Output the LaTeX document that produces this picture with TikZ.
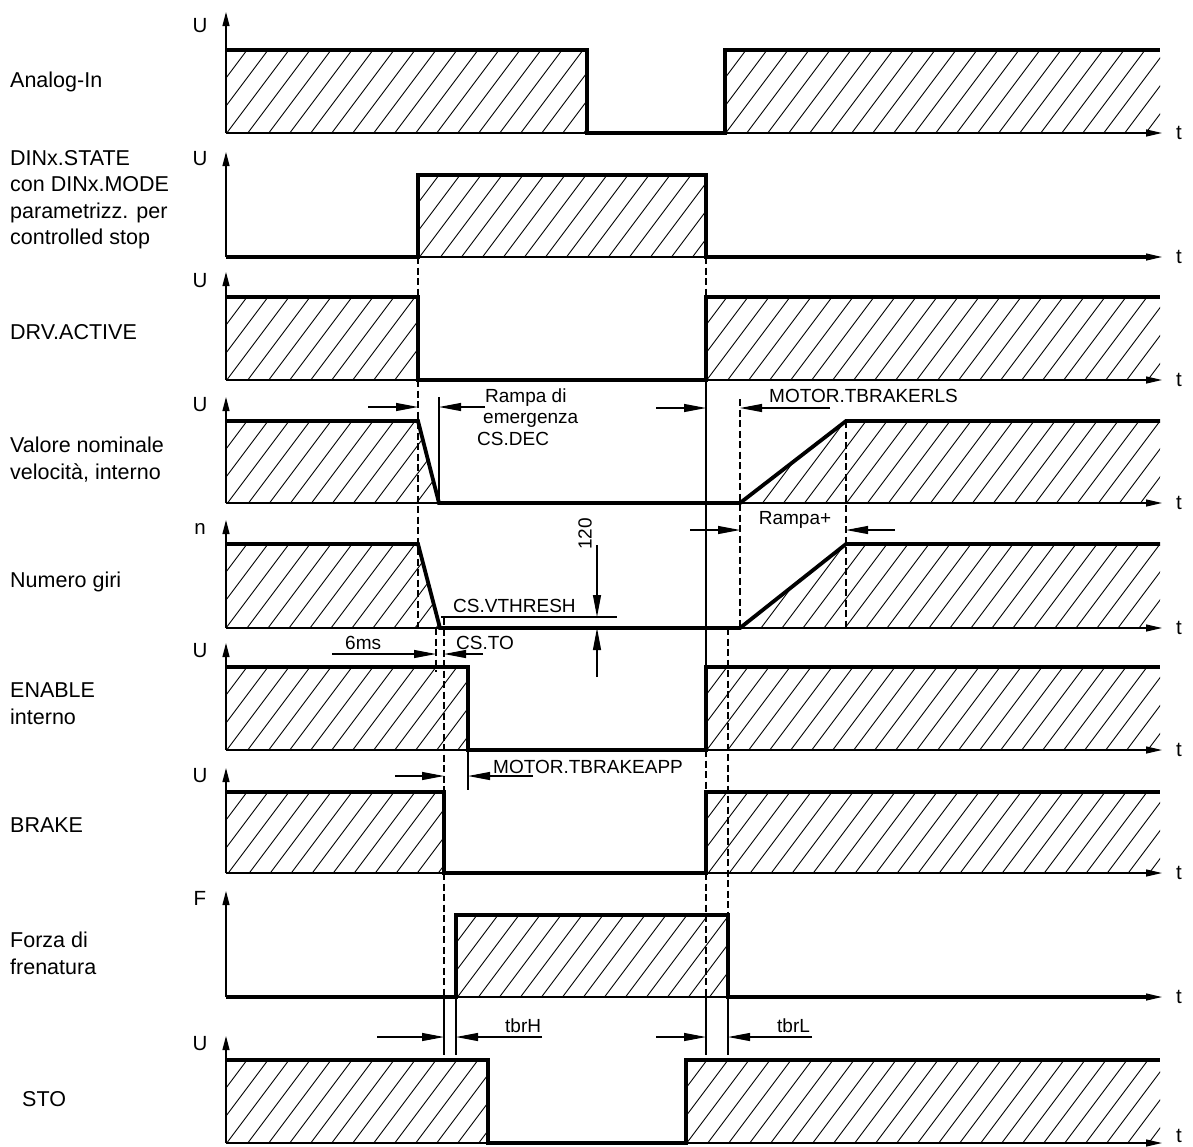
\documentclass[tikz,border=0pt]{standalone}
\usepackage{fontspec}
\setmainfont{Liberation Sans}
\usetikzlibrary{arrows.meta}
\newcommand\hatchreg[5]{%
 \begin{scope}
 \clip #1;
 \pgfmathsetmacro\hh{#5-#4}
 \pgfmathtruncatemacro\nn{((#3)-(#2)+0.75*\hh)/21+1}
 \foreach \i in {0,...,\nn}{
   \draw[hatchln] ({#2-0.75*\hh+\i*21},#5) -- ++({0.75*\hh},{-\hh});
 }
 \end{scope}}
\begin{document}
\begin{tikzpicture}[x=1pt,y=-1pt,
  sig/.style={line width=3.8pt, line join=miter},
  thinln/.style={line width=1.2pt},
  hatchln/.style={line width=0.9pt},
  guide/.style={line width=1.1pt, dash pattern=on 7pt off 3.5pt},
  axisU/.style={line width=1.2pt, -{Triangle[length=14pt,width=7pt]}},
  axisT/.style={line width=1.2pt, -{Triangle[length=16pt,width=7pt]}},
  dim/.style={line width=1.1pt, -{Triangle[length=22pt,width=8pt]}},
  lbl/.style={font=\fontsize{21.5}{26}\selectfont, anchor=base west, inner sep=0pt},
  ann/.style={font=\fontsize{19}{23}\selectfont, anchor=base west, inner sep=0pt},
  axl/.style={font=\fontsize{20.5}{24}\selectfont, anchor=base, inner sep=0pt},
]
\useasboundingbox[fill=white] (0,0) rectangle (1193,1146);

% ---------- hatching ----------
\hatchreg{(226,50) rectangle (587,133)}{226}{587}{50}{133}
\hatchreg{(725,50) rectangle (1160,133)}{725}{1160}{50}{133}
\hatchreg{(418,175) rectangle (706,257)}{418}{706}{175}{257}
\hatchreg{(226,297) rectangle (418,380)}{226}{418}{297}{380}
\hatchreg{(706,297) rectangle (1160,380)}{706}{1160}{297}{380}
\hatchreg{(226,421) -- (418,421) -- (439,503) -- (226,503) -- cycle}{226}{439}{421}{503}
\hatchreg{(740,503) -- (846,421) -- (1160,421) -- (1160,503) -- cycle}{740}{1160}{421}{503}
\hatchreg{(226,544) -- (418,544) -- (440,628) -- (226,628) -- cycle}{226}{440}{544}{628}
\hatchreg{(740,628) -- (846,544) -- (1160,544) -- (1160,628) -- cycle}{740}{1160}{544}{628}
\hatchreg{(226,667) rectangle (468,750)}{226}{468}{667}{750}
\hatchreg{(706,667) rectangle (1160,750)}{706}{1160}{667}{750}
\hatchreg{(226,792) rectangle (444,873)}{226}{444}{792}{873}
\hatchreg{(706,792) rectangle (1160,873)}{706}{1160}{792}{873}
\hatchreg{(456,915) rectangle (728,997)}{456}{728}{915}{997}
\hatchreg{(226,1060) rectangle (488,1143)}{226}{488}{1060}{1143}
\hatchreg{(686,1060) rectangle (1160,1143)}{686}{1160}{1060}{1143}

% ---------- axes ----------
\foreach \hb/\tp/\tb in {133/12/139, 257/152/263, 380/272/386, 503/397/509, 628/520/634, 750/643/756, 873/768/879, 997/891/1003, 1143/1036/1142}{
  \draw[axisU] (226,\hb) -- (226,\tp);
  \draw[axisT] (226,\hb) -- (1162,\hb);
  \node[axl] (t\hb) at (1179,\tb) {t};
}
\node[axl] (u1) at (200,32) {U};
\node[axl] (u2) at (200,165) {U};
\node[axl] (u3) at (200,287) {U};
\node[axl] (u4) at (200,411) {U};
\node[axl] (u5) at (200,534) {n};
\node[axl] (u6) at (200,657) {U};
\node[axl] (u7) at (200,782) {U};
\node[axl] (u8) at (200,905) {F};
\node[axl] (u9) at (200,1050) {U};

% ---------- guide lines ----------
\draw[guide] (418,257) -- (418,297);
\draw[guide] (418,380) -- (418,628);
\draw[thinln] (439,397) -- (439,503);
\draw[guide] (436,628) -- (436,672);
\draw[guide] (444,618) -- (444,792);
\draw[guide] (444,873) -- (444,997);
\draw[thinln] (444,997) -- (444,1055);
\draw[thinln] (456,997) -- (456,1055);
\draw[thinln] (468,750) -- (468,790);
\draw[guide] (706,257) -- (706,297);
\draw[thinln] (706,380) -- (706,667);
\draw[guide] (706,750) -- (706,792);
\draw[guide] (706,873) -- (706,997);
\draw[thinln] (706,997) -- (706,1055);
\draw[guide] (740,399) -- (740,628);
\draw[guide] (846,421) -- (846,628);
\draw[guide] (728,628) -- (728,915);
\draw[thinln] (728,997) -- (728,1055);
\draw[thinln] (441,617) -- (617,617);

% ---------- signals ----------
\draw[sig] (226,50) -- (587,50) -- (587,133) -- (725,133) -- (725,50) -- (1160,50);
\draw[sig] (226,257) -- (418,257) -- (418,175) -- (706,175) -- (706,257) -- (1150,257);
\draw[sig] (226,297) -- (418,297) -- (418,380) -- (706,380) -- (706,297) -- (1160,297);
\draw[sig] (226,421) -- (418,421) -- (439,503) -- (740,503) -- (846,421) -- (1160,421);
\draw[sig] (226,544) -- (418,544) -- (440,628) -- (740,628) -- (846,544) -- (1160,544);
\draw[sig] (226,667) -- (468,667) -- (468,750) -- (706,750) -- (706,667) -- (1160,667);
\draw[sig] (226,792) -- (444,792) -- (444,873) -- (706,873) -- (706,792) -- (1160,792);
\draw[sig] (226,997) -- (456,997) -- (456,915) -- (728,915) -- (728,997) -- (1150,997);
\draw[sig] (226,1060) -- (488,1060) -- (488,1143) -- (686,1143) -- (686,1060) -- (1160,1060);

% ---------- dimension arrows ----------
\draw[dim] (368,407) -- (418,407);
\draw[dim] (485,407) -- (439,407);
\draw[dim] (656,408) -- (706,408);
\draw[dim] (830,408) -- (740,408);
\draw[dim] (690,530) -- (740,530);
\draw[dim] (895,530) -- (846,530);
\draw[dim] (597,545) -- (597,617);
\draw[dim] (597,677) -- (597,628);
\draw[dim] (332,654) -- (436,654);
\draw[dim] (483,654) -- (444,654);
\draw[dim] (395,776) -- (444,776);
\draw[dim] (533,776) -- (468,776);
\draw[dim] (377,1037) -- (444,1037);
\draw[dim] (542,1037) -- (456,1037);
\draw[dim] (656,1037) -- (706,1037);
\draw[dim] (812,1037) -- (728,1037);

% ---------- annotation texts ----------
\node[ann] (rd1) at (485,402) {Rampa di};
\node[ann] (rd2) at (483,423.5) {emergenza};
\node[ann] (rd3) at (477,445) {CS.DEC};
\node[ann] (rls) at (769,402) {MOTOR.TBRAKERLS};
\node[ann, anchor=base] (rp) at (795,524) {Rampa+};
\node[font=\fontsize{19}{23}\selectfont, rotate=90, inner sep=0pt] (n120) at (585,534) {120};
\node[ann] (vth) at (453,612) {CS.VTHRESH};
\node[ann] (ms6) at (345,649) {6ms};
\node[ann] (cto) at (456,649) {CS.TO};
\node[ann] (app) at (493,773) {MOTOR.TBRAKEAPP};
\node[ann] (tbh) at (505,1032) {tbrH};
\node[ann] (tbl) at (777,1032) {tbrL};

% ---------- left labels ----------
\node[lbl] (l1) at (10,87) {Analog-In};
\node[lbl] (l2a) at (10,165) {DINx.STATE};
\node[lbl] (l2b) at (10,191.5) {con DINx.MODE};
\node[lbl] (l2c) at (10,218) {parametrizz. per};
\node[lbl] (l2d) at (10,244.5) {controlled stop};
\node[lbl] (l3) at (10,339) {DRV.ACTIVE};
\node[lbl] (l4a) at (10,452) {Valore nominale};
\node[lbl] (l4b) at (10,479) {velocità, interno};
\node[lbl] (l5) at (10,587) {Numero giri};
\node[lbl] (l6a) at (10,697) {ENABLE};
\node[lbl] (l6b) at (10,724) {interno};
\node[lbl] (l7) at (10,832) {BRAKE};
\node[lbl] (l8a) at (10,947) {Forza di};
\node[lbl] (l8b) at (10,974) {frenatura};
\node[lbl] (l9) at (22,1106) {STO};
\end{tikzpicture}
\end{document}
